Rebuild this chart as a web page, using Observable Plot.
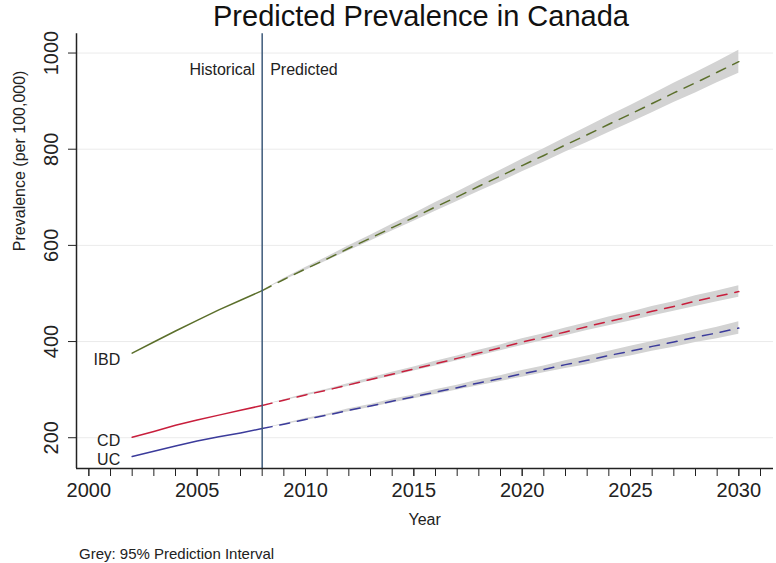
<!DOCTYPE html>
<html><head><meta charset="utf-8">
<script src="https://cdn.jsdelivr.net/npm/d3@7"></script>
<script src="https://cdn.jsdelivr.net/npm/@observablehq/plot@0.6"></script>
<style>
body{margin:0;background:#fff;font-family:"Liberation Sans",Arial,sans-serif;}
#title{box-sizing:border-box;width:776px;height:24px;overflow:visible;line-height:normal;font-size:29px;text-align:center;color:#111;padding-left:66px;white-space:nowrap;position:relative;z-index:1;}
#chart svg{display:block;overflow:visible}
#cap{height:28px;line-height:28px;font-size:15px;padding-left:79px;padding-top:5px;color:#222;}
</style></head><body>
<div id="title">Predicted Prevalence in Canada</div>
<div id="chart"></div>
<div id="cap">Grey: 95% Prediction Interval</div>
<script>
// ---- data ----
const histYears = [2002, 2003, 2004, 2005, 2006, 2007, 2008];
const ibdHist = [376, 399, 422, 444, 466, 486, 506];
const cdHist  = [201, 213, 226, 237, 247, 257, 267];
const ucHist  = [161, 172, 183, 193, 202, 210, 219];

const predYears = [2008, 2009, 2010, 2011, 2012, 2013, 2014, 2015, 2016, 2017, 2018, 2019,
                   2020, 2021, 2022, 2023, 2024, 2025, 2026, 2027, 2028, 2029, 2030];
const ibdPred = [506, 529, 551, 572, 594, 615, 637, 658, 680, 701, 723, 744,
                 766, 787, 809, 830, 852, 873, 895, 917, 938, 960, 982];
const cdPred  = [267, 278, 289, 299, 310, 321, 332, 343, 354, 365, 376, 387,
                 399, 409, 420, 431, 442, 452, 463, 473, 484, 494, 504];
const ucPred  = [219, 228, 238, 247, 257, 266, 276, 285, 295, 304, 314, 323,
                 333, 342, 352, 361, 371, 380, 390, 399, 409, 418, 428];
// half-width of the grey 95% prediction interval
const ibdHalf = [0, 2, 3, 4, 5, 6, 7, 8, 9, 10, 11, 12, 13, 14, 15, 16, 17, 18, 19, 20, 21, 22, 24];
const cdHalf  = [0, 1, 2, 2, 3, 3, 4, 4, 5, 5, 6, 6, 7, 7, 8, 8, 9, 9, 10, 10, 11, 11, 12];
const ucHalf  = [0, 1, 2, 2, 3, 3, 4, 4, 5, 5, 6, 6, 7, 7, 8, 9, 9, 10, 10, 11, 11, 12, 13];

const seriesNames = ["IBD", "CD", "UC"];
const seriesColors = ["#5b6f2b", "#c81e3c", "#3b3b9b"];
const yTicks = [200, 400, 600, 800, 1000];
const xLabelTicks = [2000, 2005, 2010, 2015, 2020, 2025, 2030];
const xMinorTicks = d3.range(2000, 2032);
const xDomain = [1999.43, 2031.6];
const yDomain = [136, 1040];
const splitYear = 2008;

// ---- tables ----
const histSets = [ibdHist, cdHist, ucHist];
const predSets = [ibdPred, cdPred, ucPred];
const halfSets = [ibdHalf, cdHalf, ucHalf];
const hist = [], pred = [];
seriesNames.forEach((s, k) => {
  histYears.forEach((yr, i) => hist.push({series: s, year: yr, value: histSets[k][i]}));
  predYears.forEach((yr, i) => pred.push({series: s, year: yr, value: predSets[k][i],
    lo: predSets[k][i] - halfSets[k][i], hi: predSets[k][i] + halfSets[k][i]}));
});
const starts = seriesNames.map((s, k) => ({series: s, year: histYears[0], value: histSets[k][0]}));

const plot = Plot.plot({
  width: 776,
  height: 511,
  marginTop: 9.3,
  marginLeft: 76,
  marginRight: 3,
  marginBottom: 67,
  style: {fontFamily: '"Liberation Sans", Arial, sans-serif', color: "#222", background: "transparent", overflow: "visible"},
  x: {domain: xDomain},
  y: {domain: yDomain},
  color: {domain: seriesNames, range: seriesColors},
  marks: [
    Plot.gridY(yTicks, {stroke: "#ebebeb", strokeOpacity: 1}),
    Plot.areaY(pred, {x: "year", y1: "lo", y2: "hi", z: "series", fill: "#d3d3d3"}),
    Plot.line(hist, {x: "year", y: "value", z: "series", stroke: "series", strokeWidth: 1.5}),
    Plot.line(pred, {x: "year", y: "value", z: "series", stroke: "series", strokeWidth: 1.5, strokeDasharray: "10,8"}),
    Plot.ruleX([splitYear], {stroke: "#3d5a7a", strokeWidth: 1.5}),
    Plot.ruleX([xDomain[0]], {stroke: "#222", strokeWidth: 1.5}),
    Plot.ruleY([yDomain[0]], {stroke: "#222", strokeWidth: 1.5}),
    Plot.axisY(yTicks, {tickRotate: -90, tickSize: 8, tickPadding: 11, fontSize: 20, label: null, stroke: "#222", tickFormat: d => String(d)}),
    Plot.axisX(xMinorTicks, {tickSize: 8, tickFormat: () => "", label: null, stroke: "#222"}),
    Plot.axisX(xLabelTicks, {tickSize: 8, tickPadding: 6, fontSize: 20, label: null, tickFormat: d => String(d), stroke: "#222"}),
    Plot.text(["Prevalence (per 100,000)"], {frameAnchor: "left", rotate: -90, dx: -57, fontSize: 16, fill: "#222"}),
    Plot.text(["Year"], {frameAnchor: "bottom", x: [2015.5], dy: 56, fontSize: 16, fill: "#222"}),
    Plot.text(["Historical"], {x: [splitYear], frameAnchor: "top", dx: -7, dy: 30, textAnchor: "end", fontSize: 16, fill: "#222"}),
    Plot.text(["Predicted"], {x: [splitYear], frameAnchor: "top", dx: 8, dy: 30, textAnchor: "start", fontSize: 16, fill: "#222"}),
    Plot.text(starts.filter(d => d.series === "IBD"), {x: "year", y: "value", text: "series", dx: -12, dy: 6.5, textAnchor: "end", fontSize: 16, fill: "#222"}),
    Plot.text(starts.filter(d => d.series === "CD"), {x: "year", y: "value", text: "series", dx: -12, dy: 4, textAnchor: "end", fontSize: 16, fill: "#222"}),
    Plot.text(starts.filter(d => d.series === "UC"), {x: "year", y: "value", text: "series", dx: -12, dy: 3.5, textAnchor: "end", fontSize: 16, fill: "#222"})
  ]
});
document.getElementById("chart").appendChild(plot);
</script>
</body></html>
